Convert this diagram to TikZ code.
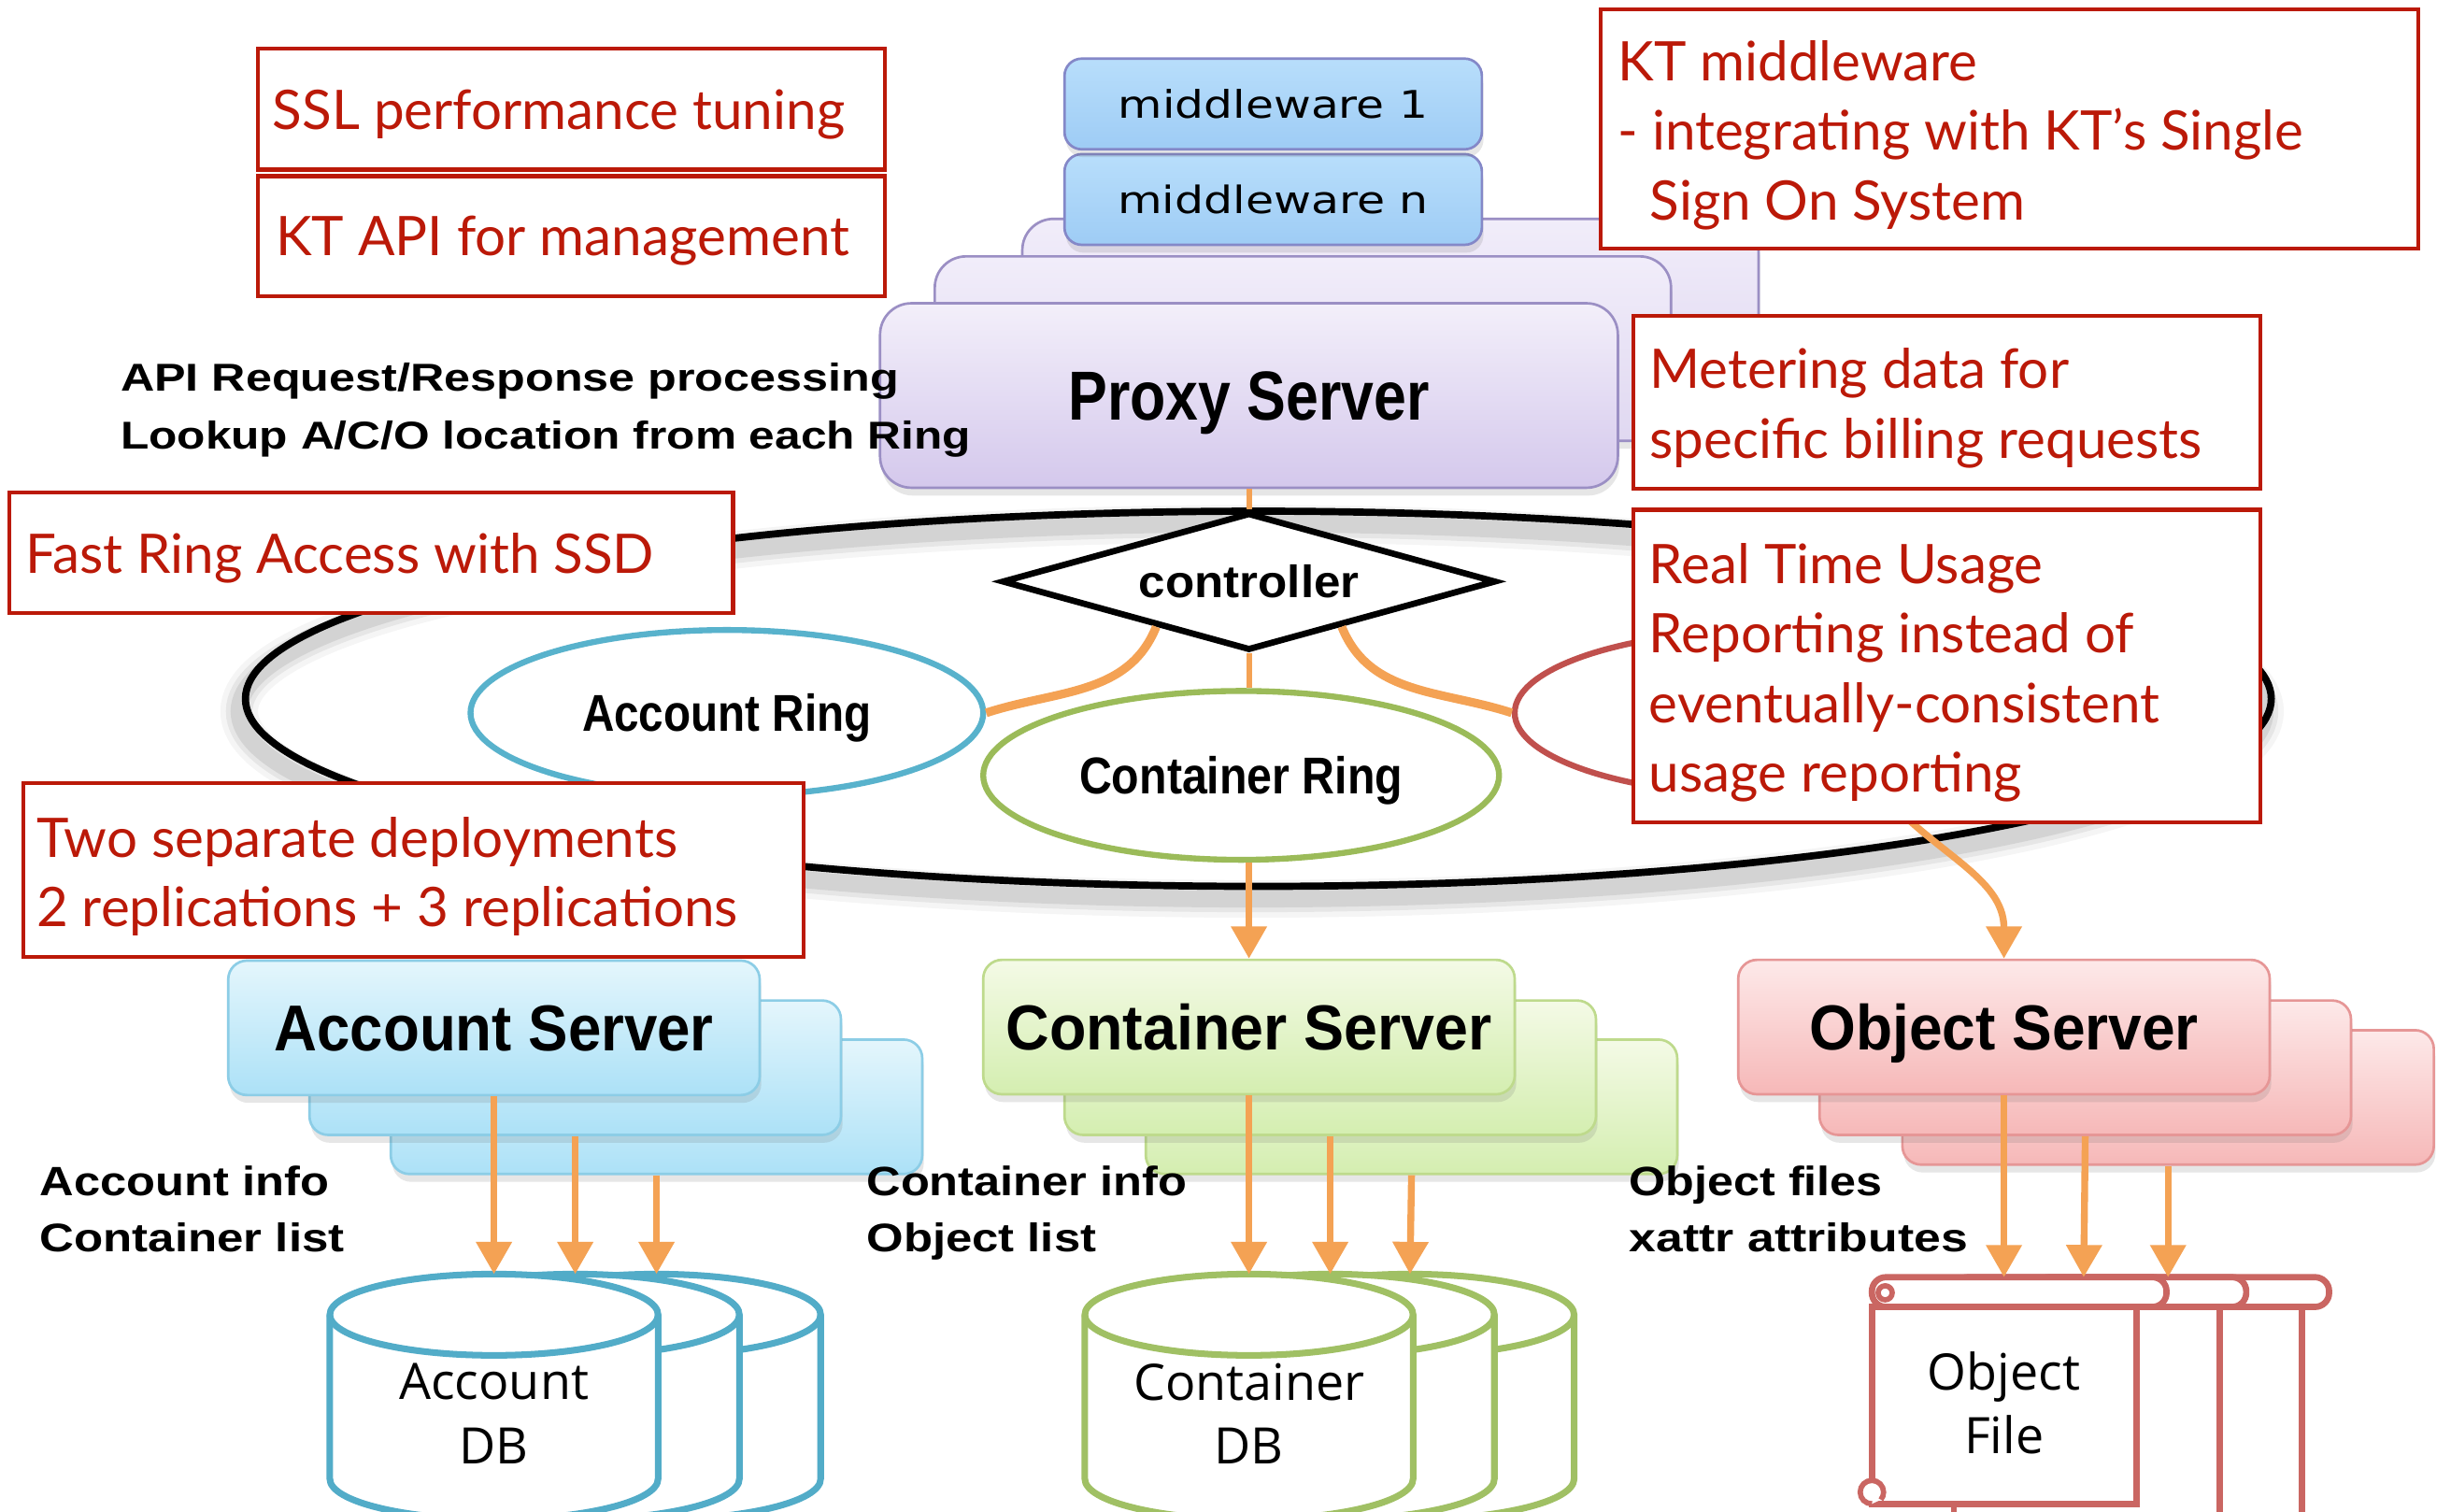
\documentclass[tikz,border=0pt]{standalone}
\usepackage{fontspec}
\usepackage{graphicx}
\usetikzlibrary{shapes.geometric,arrows.meta,shadows}

\newfontfamily\notefont{Lato}
\newfontfamily\labelfont{Liberation Sans}
\newfontfamily\mwfont{DejaVu Sans}
\newfontfamily\dbfont{Open Sans}

% one drawing unit
\newdimen\PX
\PX=0.016728cm

% squeeze a label to a given width and cap height (in drawing units)
\newcommand{\fitlbl}[3]{\resizebox{#1\PX}{#2\PX}{#3}}

\definecolor{notered}{RGB}{187,25,8}
\definecolor{wire}{RGB}{244,162,84}
\definecolor{acctline}{RGB}{140,205,230}
\definecolor{accttop}{RGB}{228,246,252}
\definecolor{acctbot}{RGB}{172,225,247}
\definecolor{contline}{RGB}{190,218,140}
\definecolor{conttop}{RGB}{244,250,230}
\definecolor{contbot}{RGB}{212,238,176}
\definecolor{objline}{RGB}{230,150,150}
\definecolor{objtop}{RGB}{253,233,233}
\definecolor{objbot}{RGB}{246,184,184}
\definecolor{proxline}{RGB}{155,143,196}
\definecolor{proxtop}{RGB}{243,239,250}
\definecolor{proxbot}{RGB}{212,200,236}
\definecolor{layertop}{RGB}{241,237,250}
\definecolor{layerbot}{RGB}{224,216,241}
\definecolor{mwline}{RGB}{132,136,200}
\definecolor{mwtop}{RGB}{184,222,251}
\definecolor{mwbot}{RGB}{158,204,245}
\definecolor{ringacct}{RGB}{88,178,204}
\definecolor{ringcont}{RGB}{155,187,89}
\definecolor{ringobj}{RGB}{192,80,77}
\definecolor{dbacct}{RGB}{82,172,200}
\definecolor{dbcont}{RGB}{160,192,100}
\definecolor{scrollred}{RGB}{202,102,98}

% database cylinder: centre x, colour, name of the lid point
\newcommand{\dbcyl}[3]{%
  \draw[line width=4.2\PX, draw=#2, fill=white]
    (#1-105,841) -- (#1-105,946)
    arc[start angle=180, end angle=0, x radius=105, y radius=26]
    -- (#1+105,841)
    arc[start angle=0, end angle=-180, x radius=105, y radius=26] -- cycle;
  \draw[line width=4.2\PX, draw=#2]
    (#1-105,841) arc[start angle=180, end angle=0, x radius=105, y radius=26];
  \coordinate (#3) at (#1,815);}

% scroll page: left x, body right x, roll right x
\newcommand{\scrollpage}[3]{%
  \draw[line width=4\PX, draw=scrollred, fill=white]
    (#1,836) -- (#1,985) -- (#2,985) -- (#2,836) -- cycle;
  \draw[line width=4\PX, draw=scrollred, fill=white, rounded corners=9\PX]
    (#1,817) rectangle (#3,836);}

\begin{document}
\begin{tikzpicture}[x=0.016728cm, y=-0.016728cm,
  notebox/.style={rectangle, draw=notered, line width=2.6\PX, fill=white, inner sep=0},
  notetext/.style={anchor=north west, inner sep=0, align=left, text=notered,
    font=\notefont\fontsize{16.6pt}{21.2pt}\selectfont},
  softshadow/.style={drop shadow={shadow xshift=1\PX, shadow yshift=-5\PX,
    opacity=0.16, fill=black!60}},
  server/.style={rectangle, rounded corners=12\PX, line width=1.6\PX, inner sep=0,
    minimum width=340\PX, minimum height=86\PX, text depth=0pt,
    font=\labelfont\bfseries, softshadow},
  acctsrv/.style={server, draw=acctline, top color=accttop, bottom color=acctbot},
  contsrv/.style={server, draw=contline, top color=conttop, bottom color=contbot},
  objsrv/.style={server, draw=objline, top color=objtop, bottom color=objbot},
  proxybox/.style={rectangle, rounded corners=20\PX, line width=1.6\PX, inner sep=0,
    minimum width=472\PX, minimum height=118\PX, draw=proxline, text depth=0pt,
    font=\labelfont\bfseries, softshadow},
  mwbox/.style={rectangle, rounded corners=11\PX, line width=1.6\PX, inner sep=0,
    minimum width=267\PX, minimum height=58\PX, draw=mwline, top color=mwtop,
    bottom color=mwbot, text depth=0pt, font=\mwfont, softshadow},
  ringnode/.style={ellipse, line width=3.8\PX, fill=white, inner sep=0,
    text depth=0pt, font=\labelfont\bfseries},
  wirethin/.style={draw=wire, line width=3.6\PX},
  wirethick/.style={draw=wire, line width=5.5\PX},
  wirearrow/.style={draw=wire, line width=4.4\PX,
    -{Triangle[width=10.5pt, length=9.8pt]}},
  lbl/.style={anchor=base west, inner sep=0, font=\labelfont\bfseries},
  dbtext/.style={inner sep=0, align=center, text depth=0pt,
    font=\dbfont\fontsize{15.3pt}{19.5pt}\selectfont}
]

\path[use as bounding box, fill=white] (0,0) rectangle (1568,967);

% ---------- the ring ----------
\foreach \w/\o in {24/0.04, 17/0.06, 11/0.08}
  \draw[line width=\w\PX, black, opacity=\o] (801,455) ellipse [x radius=648, y radius=120];
\node[ellipse, draw=black, line width=4.6\PX, inner sep=0,
  minimum width=1296\PX, minimum height=240\PX] (ring) at (805,447) {};

% ---------- proxy tier ----------
\node[proxybox, top color=layertop, bottom color=layerbot, minimum width=471\PX]
  (proxy3) at (889.5,199) {};
\node[mwbox] (mwn) at (814.5,127.6) {\fitlbl{199}{18.3}{middleware n}};
\node[mwbox] (mw1) at (814.5,66.5) {\fitlbl{198}{18.5}{middleware 1}};
\node[proxybox, top color=layertop, bottom color=layerbot, minimum width=471\PX]
  (proxy2) at (833.5,223) {};
\node[proxybox, top color=proxtop, bottom color=proxbot]
  (proxy) at (799,253) {\fitlbl{231}{31}{Proxy Server}};

\node[lbl] (apitxt) at (76.7,250) {\fitlbl{498}{18}{API Request/Response processing}};
\node[lbl] (lookuptxt) at (76.7,287) {\fitlbl{544}{18}{Lookup A/C/O location from each Ring}};

% ---------- rings ----------
\node[ringnode, draw=ringobj, minimum width=326\PX, minimum height=106\PX]
  (oring) at (1132,456) {};
\node[ringnode, draw=ringacct, minimum width=328\PX, minimum height=106\PX]
  (aring) at (465,456) {\fitlbl{185}{24}{Account Ring}};
\node[ringnode, draw=ringcont, minimum width=330\PX, minimum height=108\PX]
  (cring) at (794,496) {\fitlbl{207}{24}{Container Ring}};

% ---------- controller ----------
\node[diamond, aspect=3.59, draw=black, line width=4\PX, fill=white, inner sep=0,
  minimum width=316\PX, minimum height=88\PX, text depth=0pt,
  font=\labelfont\bfseries] (ctrl) at (799,372) {\fitlbl{141}{21}{controller}};

\draw[wirethin] (proxy.south) -- (ctrl.north);
\draw[wirethin] (ctrl.south) -- (ctrl.south |- cring.north);
\draw[wirethick] (ctrl.206) to[out=-112, in=18] (aring.east);
\draw[wirethick] (ctrl.334) to[out=-68, in=162] (oring.west);

% ---------- storage servers ----------
\node[acctsrv] (as3) at (420,708) {};
\node[acctsrv] (as2) at (368,683) {};
\node[acctsrv] (as1) at (316,657.5) {\fitlbl{281}{29}{Account Server}};

\node[contsrv] (cs3) at (903,708) {};
\node[contsrv] (cs2) at (851,683) {};
\node[contsrv] (cs1) at (799,657) {\fitlbl{311}{29.5}{Container Server}};

\node[objsrv] (os3) at (1387,702) {};
\node[objsrv] (os2) at (1334,683) {};
\node[objsrv] (os1) at (1282,657) {\fitlbl{249}{29.5}{Object Server}};

\draw[wirearrow] (cs1.north |- cring.south) -- (cs1.north);
\draw[wirearrow] (oring.-35) to[out=-50, in=90] (os1.north);

% ---------- stores ----------
\dbcyl{420}{dbacct}{adb3}
\dbcyl{368}{dbacct}{adb2}
\dbcyl{316}{dbacct}{adb1}
\node[dbtext] (adbtxt) at (316,904.4) {Account\\DB};

\dbcyl{902}{dbcont}{cdb3}
\dbcyl{851}{dbcont}{cdb2}
\dbcyl{799}{dbcont}{cdb1}
\node[dbtext] (cdbtxt) at (799,904.3) {Container\\DB};

\scrollpage{1302}{1472.5}{1490}
\scrollpage{1250}{1420}{1437}
% front scroll with its curls
\draw[line width=4\PX, draw=scrollred, fill=white]
  (1197.5,836) -- (1197.5,962) -- (1367,962) -- (1367,836) -- cycle;
\draw[line width=4\PX, draw=scrollred, fill=white, rounded corners=9\PX]
  (1197.5,817) rectangle (1386,836);
\draw[line width=3.4\PX, draw=scrollred, fill=white] (1206,827) circle[radius=4.5];
\draw[line width=3.4\PX, draw=scrollred, fill=white]
  (1197.5,962) arc[start angle=90, end angle=400, radius=7.5];
\coordinate (of1) at (1282,817);
\coordinate (of2) at (1333,817);
\coordinate (of3) at (1387,817);
\node[dbtext] (oftxt) at (1282,897.3) {Object\\File};

% ---------- replication arrows ----------
\draw[wirearrow] (as1.south) -- (adb1);
\draw[wirearrow] (as2.south) -- (adb2);
\draw[wirearrow] (as3.south) -- (adb3);
\draw[wirearrow] (cs1.south) -- (cdb1);
\draw[wirearrow] (cs2.south) -- (cdb2);
\draw[wirearrow] (cs3.south) -- (cdb3);
\draw[wirearrow] (os1.south) -- (of1);
\draw[wirearrow] (os2.south) -- (of2);
\draw[wirearrow] (os3.south) -- (of3);

% ---------- data labels ----------
\node[lbl] (ainfo) at (25,765) {\fitlbl{185}{19}{Account info}};
\node[lbl] (clist) at (25,801) {\fitlbl{195}{18.5}{Container list}};
\node[lbl] (cinfo) at (554,765) {\fitlbl{205}{19}{Container info}};
\node[lbl] (olist) at (554,801) {\fitlbl{147}{18.5}{Object list}};
\node[lbl] (ofiles) at (1042,765) {\fitlbl{162}{19}{Object files}};
\node[lbl] (xattr) at (1042,801) {\fitlbl{216.5}{18.5}{xattr attributes}};

% ---------- KT notes ----------
\node[notebox, minimum width=401\PX, minimum height=77.5\PX] (ssl) at (365.5,69.75) {};
\node[notetext] (ssltxt) at (174,57.2) {SSL performance tuning};

\node[notebox, minimum width=401\PX, minimum height=77\PX] (ktapi) at (365.5,151.1) {};
\node[notetext] (ktapitxt) at (176,137.9) {KT API for management};

\node[notebox, minimum width=523\PX, minimum height=153\PX] (ktmw) at (1285.5,82.5) {};
\node[notetext] (ktmwtxt) at (1034.6,25.3)
  {KT middleware\\- integrating with KT’s Single\\\hspace*{20.4\PX}Sign On System};

\node[notebox, minimum width=401\PX, minimum height=110.7\PX] (meter) at (1245.5,257.35) {};
\node[notetext] (metertxt) at (1055,222.5) {Metering data for\\specific billing requests};

\node[notebox, minimum width=401\PX, minimum height=200\PX] (usage) at (1245.5,426) {};
\node[notetext] (usagetxt) at (1054.6,347.1)
  {Real Time Usage\\Reporting instead of\\eventually-consistent\\usage reporting};

\node[notebox, minimum width=463\PX, minimum height=77\PX] (ssd) at (237.5,353.5) {};
\node[notetext] (ssdtxt) at (16,340.8) {Fast Ring Access with SSD};

\node[notebox, minimum width=499\PX, minimum height=111\PX] (deploy) at (264.5,556.5) {};
\node[notetext] (deploytxt) at (23,522.2)
  {Two separate deployments\\2 replications + 3 replications};

\end{tikzpicture}
\end{document}
